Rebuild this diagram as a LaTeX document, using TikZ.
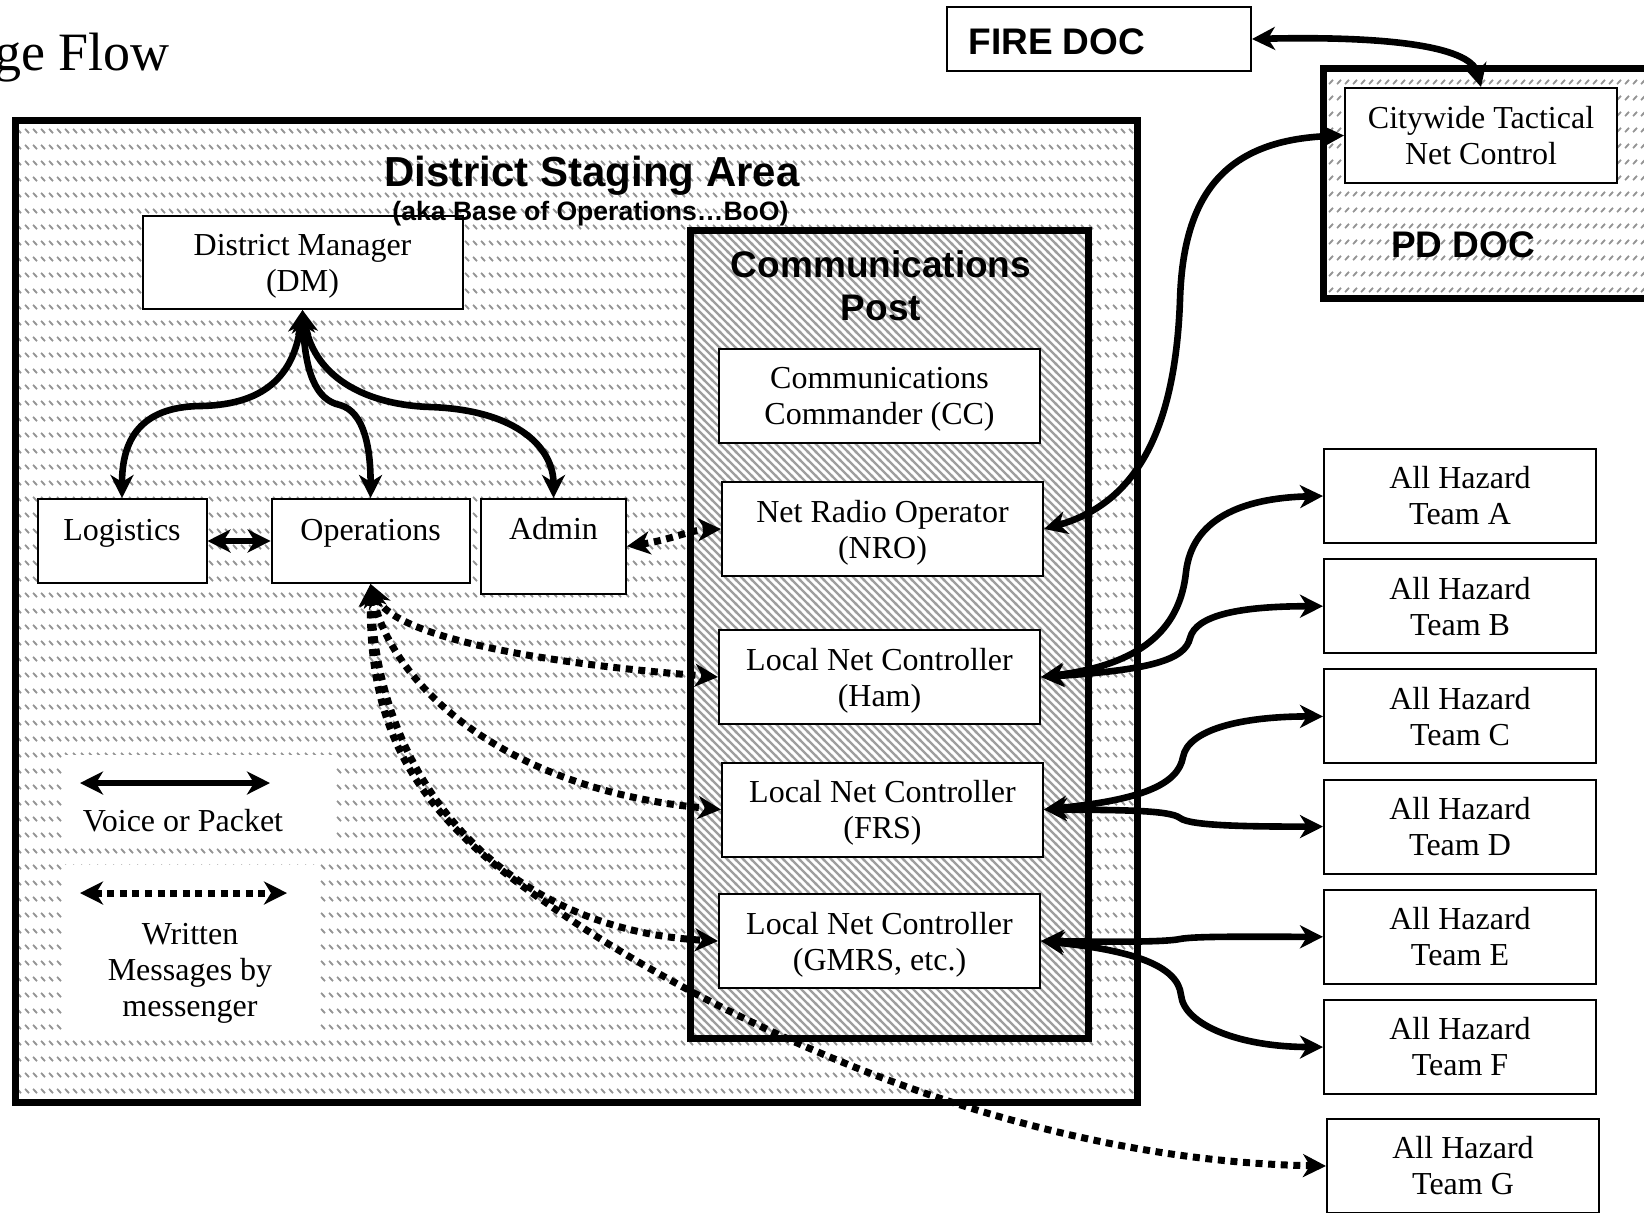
\documentclass[tikz,border=0pt]{standalone}
\usepackage{fontspec}
\setmainfont{Liberation Serif}
\newfontfamily\hv{Liberation Sans}
\usetikzlibrary{arrows.meta,patterns}
\newcommand\nodepth[1]{\raisebox{0pt}[\height][0pt]{#1}}

\pgfdeclarepatternformonly{dsapat}{\pgfqpoint{0pt}{0pt}}{\pgfqpoint{4pt}{8pt}}{\pgfqpoint{4pt}{8pt}}{%
  \pgfsetlinewidth{1pt}%
  \pgfpathmoveto{\pgfqpoint{0.6pt}{6.4pt}}%
  \pgfpathlineto{\pgfqpoint{2.8pt}{4.2pt}}%
  \pgfusepath{stroke}}
\pgfdeclarepatternformonly{pdpat}{\pgfqpoint{0pt}{0pt}}{\pgfqpoint{4pt}{8pt}}{\pgfqpoint{4pt}{8pt}}{%
  \pgfsetlinewidth{1pt}%
  \pgfpathmoveto{\pgfqpoint{0.6pt}{4.2pt}}%
  \pgfpathlineto{\pgfqpoint{2.8pt}{6.4pt}}%
  \pgfusepath{stroke}}
\pgfdeclarepatternformonly{cppat}{\pgfqpoint{-1pt}{-1pt}}{\pgfqpoint{5pt}{5pt}}{\pgfqpoint{4pt}{4pt}}{%
  \pgfsetlinewidth{1.2pt}%
  \pgfpathmoveto{\pgfqpoint{-0.5pt}{4.5pt}}%
  \pgfpathlineto{\pgfqpoint{4.5pt}{-0.5pt}}%
  \pgfusepath{stroke}}

\begin{document}
\begin{tikzpicture}[x=0.5pt,y=-0.5pt,
  >={Stealth[length=11.5pt,width=11.5pt,inset=3.5pt]},
  txt/.style={font=\fontsize{16}{18}\selectfont, align=center, inner sep=0pt},
  box/.style={draw, line width=1pt, fill=white, txt},
  cbox/.style={box, minimum width=160.5pt, minimum height=47pt},
  teambox/.style={box, minimum width=136pt, minimum height=47pt},
  conn/.style={<->, line width=3.3pt},
  msg/.style={<->, line width=3.5pt, dash pattern=on 3.5pt off 2.8pt},
  area/.style={draw, line width=3.5pt, inner sep=0pt, preaction={fill=white}},
  head/.style={font=\hv\bfseries\fontsize{18.5}{21.5}\selectfont, align=center, inner sep=0pt},
]
\useasboundingbox (0,0) rectangle (1644,1212);
\fill[white] (0,0) rectangle (1644,1212);

% containers
\node[area, pattern=dsapat, pattern color=black!42, minimum width=561pt, minimum height=490.75pt] (dsa) at (576,611.25) {};
\node[area, pattern=cppat, pattern color=black!38, minimum width=199.25pt, minimum height=404.25pt] (cpost) at (889.25,634.25) {};
\node[area, pattern=pdpat, pattern color=black!42, minimum width=178.5pt, minimum height=114.75pt] (pddoc) at (1501.5,183.25) {};

% legend panels
\node[fill=white, inner sep=0pt, minimum width=136pt, minimum height=46pt] (leg1) at (199,801) {};
\node[fill=white, inner sep=0pt, minimum width=127.5pt, minimum height=84pt] (leg2) at (190.5,949) {};

% boxes
\node[box, minimum width=160pt, minimum height=46.5pt] (dm) at (302.5,262.5) {District Manager\\\nodepth{(DM)}};
\node[cbox] (cc) at (879.5,396) {Communications\\\nodepth{Commander (CC)}};
\node[cbox] (nro) at (882.5,529) {Net Radio Operator\\\nodepth{(NRO)}};
\node[cbox] (ham) at (879.5,677) {Local Net Controller\\\nodepth{(Ham)}};
\node[cbox] (frs) at (882.5,809.5) {Local Net Controller\\\nodepth{(FRS)}};
\node[cbox] (gmrs) at (879.5,941) {Local Net Controller\\\nodepth{(GMRS, etc.)}};

\node[box, minimum width=84.5pt, minimum height=42pt] (log) at (122,541) {};
\node[txt, anchor=base] (logt) at (122,540) {Logistics};
\node[box, minimum width=99pt, minimum height=42pt] (ops) at (370.6,541) {};
\node[txt, anchor=base] (opst) at (370.6,540) {Operations};
\node[box, minimum width=72.5pt, minimum height=47.25pt] (adm) at (553.5,546.25) {};
\node[txt, anchor=base] (admt) at (553.5,539) {Admin};

\node[teambox] (ta) at (1460,496) {All Hazard\\Team A};
\node[teambox] (tb) at (1460,606.2) {All Hazard\\Team B};
\node[teambox] (tc) at (1460,716.4) {All Hazard\\Team C};
\node[teambox] (td) at (1460,826.6) {All Hazard\\Team D};
\node[teambox] (te) at (1460,936.8) {All Hazard\\Team E};
\node[teambox] (tf) at (1460,1047) {All Hazard\\Team F};
\node[teambox] (tg) at (1463,1166) {All Hazard\\Team G};

\node[box, minimum width=136pt, minimum height=47.5pt] (city) at (1481,135.5) {Citywide Tactical\\Net Control};
\node[box, minimum width=152pt, minimum height=32pt] (fire) at (1099,39) {};
\node[anchor=base west, inner sep=0pt, font=\hv\bfseries\fontsize{18.5}{21.5}\selectfont] (firet) at (968,54) {FIRE DOC};

% titles
\node[anchor=base west, inner sep=0pt, font=\fontsize{27}{31}\selectfont] (title) at (-6,70) {ge Flow};
\node[anchor=base, inner sep=0pt, font=\hv\bfseries\fontsize{21}{24}\selectfont] (dsat) at (592,186) {District Staging Area};
\node[anchor=base, inner sep=0pt, font=\hv\bfseries\fontsize{13.3}{15}\selectfont] (dsas) at (590.5,220) {(aka Base of Operations…BoO)};
\node[head] (cpt) at (881,285.5) {Communications\\Post};
\node[head, anchor=base] (pdt) at (1463,257) {PD DOC};

% legend
\coordinate (va) at (80,783);
\coordinate (vb) at (270,783);
\draw[conn] (va) -- (vb);
\node[txt, anchor=base] (vt) at (183,831) {Voice or Packet};
\coordinate (wa) at (80,893);
\coordinate (wb) at (287,893);
\draw[msg] (wa) -- (wb);
\node[txt] (wt) at (190,973.5) {Written\\Messages by\\messenger};

% DM links
\draw[conn] (dm.south) .. controls (295,370) and (270,405) .. (200,406) .. controls (140,407) and (122,440) .. (log.north);
\draw[conn] (dm.south) .. controls (305,370) and (315,400) .. (340,405) .. controls (365,412) and (370.6,450) .. (ops.north);
\draw[conn] (dm.south) .. controls (315,380) and (370,405) .. (430,407) .. controls (520,410) and (553.5,450) .. (adm.north);
\draw[conn] (log.east) -- (ops.west);

% written message links
\draw[msg] (adm.east) .. controls (670,540) and (690,530) .. (nro.west);
\draw[msg] (ops.south) .. controls (395,640) and (560,665) .. (ham.west);
\draw[msg] (ops.south) .. controls (390,680) and (500,790) .. (frs.west);
\draw[msg] (ops.south) .. controls (378,790) and (510,930) .. (gmrs.west);
\draw[msg] (ops.south) .. controls (368,740) and (425,820) .. (545,902) .. controls (700,1012) and (1000,1160) .. (tg.west);

% radio links
\draw[conn] (nro.east) .. controls (1130,505) and (1175,440) .. (1180,300) .. controls (1183,200) and (1220,140) .. (city.west);
\draw[conn] (fire.east) .. controls (1380,36) and (1470,45) .. (city.north);
\draw[conn] (ham.east) .. controls (1140,665) and (1180,630) .. (1186,572) .. controls (1192,520) and (1240,498) .. (ta.west);
\draw[conn] (ham.east) .. controls (1150,670) and (1185,660) .. (1190,638) .. controls (1196,615) and (1240,606.2) .. (tb.west);
\draw[conn] (frs.east) .. controls (1140,800) and (1178,785) .. (1183,757) .. controls (1188,730) and (1240,716.4) .. (tc.west);
\draw[conn] (frs.east) .. controls (1120,810) and (1170,810) .. (1180,818) .. controls (1190,826) and (1250,826.6) .. (td.west);
\draw[conn] (gmrs.east) .. controls (1120,942) and (1165,942) .. (1180,939) .. controls (1195,936) and (1250,936.8) .. (te.west);
\draw[conn] (gmrs.east) .. controls (1130,950) and (1178,965) .. (1181,995) .. controls (1184,1025) and (1240,1047) .. (tf.west);
\end{tikzpicture}
\end{document}
